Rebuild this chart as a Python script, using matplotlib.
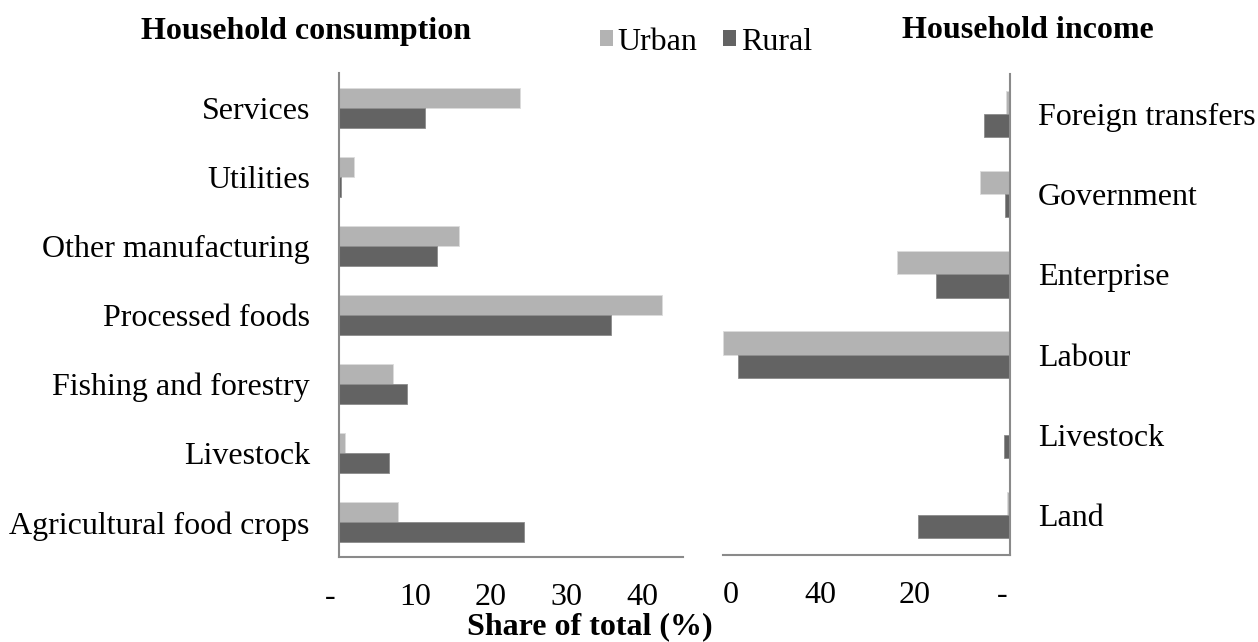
import numpy as np
import matplotlib.pyplot as plt
import matplotlib.transforms as mtransforms
from matplotlib.patches import Patch

plt.rcParams['font.family'] = ['Liberation Serif', 'DejaVu Serif']

# Household consumption shares (%), bottom to top
cons_cats = ["Agricultural food crops", "Livestock", "Fishing and forestry",
             "Processed foods", "Other manufacturing", "Utilities", "Services"]
cons_urban = [7.8, 0.8, 7.1, 42.6, 15.8, 2.0, 23.8]
cons_rural = [24.3, 6.6, 8.9, 35.8, 12.9, 0.3, 11.3]

# Household income shares (%), bottom to top
inc_cats = ["Land", "Livestock", "Labour", "Enterprise", "Government",
            "Foreign transfers"]
inc_urban = [0.7, 0.0, 60.5, 23.8, 6.3, 0.9]
inc_rural = [19.4, 1.3, 57.3, 15.6, 1.1, 5.5]

cons_ticks = [0, 10, 20, 30, 40]
cons_ticklabels = ["-", "10", "20", "30", "40"]
inc_ticks = [0, 20, 40, 60]
inc_ticklabels = ["-", "20", "40", "0"]

c_urban = "#b3b3b3"
c_rural = "#636363"
c_axis = "#8a8a8a"
fs = 23

fig = plt.figure(figsize=(12.58, 6.42), dpi=100)

ax1 = fig.add_axes([339/1258, 1-557/642, 344/1258, 484/642])
ax2 = fig.add_axes([723/1258, 1-555/642, 287/1258, 481/642])

h = 0.29


def shift(label, dx):
    # nudge a tick label sideways by dx pixels
    off = mtransforms.ScaledTranslation(dx/100, 0, fig.dpi_scale_trans)
    label.set_transform(label.get_transform() + off)


# Left: consumption
y = np.arange(len(cons_cats))
ax1.barh(y + h/2, cons_urban, h, color=c_urban, edgecolor="#dcdcdc", linewidth=0.6)
ax1.barh(y - h/2, cons_rural, h, color=c_rural, edgecolor="#8c8c8c", linewidth=0.6)
ax1.set_xlim(0, 45.3)
ax1.set_ylim(-0.5, len(cons_cats) - 0.5)
ax1.set_yticks(y)
ax1.set_yticklabels(cons_cats, fontsize=fs)
ax1.set_xticks(cons_ticks)
ax1.set_xticklabels(cons_ticklabels, fontsize=fs)
ax1.tick_params(axis="y", length=0, pad=21)
ax1.tick_params(axis="x", length=0, pad=19)
for s in ["top", "right"]:
    ax1.spines[s].set_visible(False)
for s in ["left", "bottom"]:
    ax1.spines[s].set_color(c_axis)
    ax1.spines[s].set_linewidth(1.5)
shift(ax1.get_xticklabels()[0], -9)

# Right: income (axis reversed)
y2 = np.arange(len(inc_cats))
ax2.barh(y2 + h/2, inc_urban, h, color=c_urban, edgecolor="#dcdcdc", linewidth=0.6)
ax2.barh(y2 - h/2, inc_rural, h, color=c_rural, edgecolor="#8c8c8c", linewidth=0.6)
ax2.set_xlim(60.4, 0)
ax2.set_ylim(-0.5, len(inc_cats) - 0.5)
ax2.yaxis.tick_right()
ax2.set_yticks(y2)
ax2.set_yticklabels(inc_cats, fontsize=fs)
ax2.set_xticks(inc_ticks)
ax2.set_xticklabels(inc_ticklabels, fontsize=fs)
ax2.tick_params(axis="y", length=0, pad=20)
ax2.tick_params(axis="x", length=0, pad=19)
for s in ["top", "left"]:
    ax2.spines[s].set_visible(False)
for s in ["right", "bottom"]:
    ax2.spines[s].set_color(c_axis)
    ax2.spines[s].set_linewidth(1.5)
shift(ax2.get_xticklabels()[0], -8)
shift(ax2.get_xticklabels()[3], 6)

fig.text(306/1258, 1-31/642, "Household consumption", fontsize=fs, fontweight="bold",
         ha="center", va="center")
fig.text(1028/1258, 1-31/642, "Household income", fontsize=fs, fontweight="bold",
         ha="center", va="center")
fig.text(590/1258, 1-627/642, "Share of total (%)", fontsize=fs, fontweight="bold",
         ha="center", va="center")

handles = [Patch(facecolor=c_urban, label="Urban"), Patch(facecolor=c_rural, label="Rural")]
fig.legend(handles=handles, loc="center", bbox_to_anchor=(706/1258, 1-42/642), ncol=2,
           frameon=False, fontsize=fs, handlelength=0.4, handleheight=0.4,
           handletextpad=0.15, columnspacing=0.8, borderpad=0)

fig.savefig("out.png", dpi=100)
